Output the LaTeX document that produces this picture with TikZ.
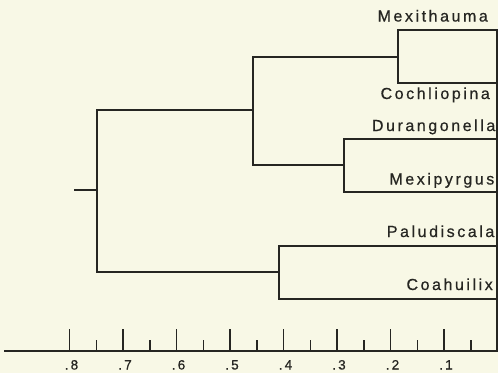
\documentclass[tikz,border=0pt]{standalone}
\usepackage{fontspec}
\setmainfont{Liberation Sans}
\newfontfamily\lab[LetterSpace=16,FakeBold=0.6]{Liberation Sans}
\definecolor{bg}{RGB}{248,248,230}
\definecolor{ink}{RGB}{38,38,34}
\tikzset{
  taxon/.style={anchor=base east, inner sep=0pt, text=ink, font=\lab\fontsize{16}{16}\selectfont},
  ticklab/.style={anchor=base, inner sep=0pt, text=ink, font=\lab\fontsize{13.5}{13.5}\selectfont},
  branch/.style={draw=ink, line width=1.5pt, line cap=rect, line join=miter},
}
\begin{document}
\begin{tikzpicture}[x=1pt,y=-1pt]
\fill[bg] (0,0) rectangle (498,373);
% leaves (tip ends on the right edge)
\coordinate (mex) at (497,30);
\coordinate (coc) at (497,83);
\coordinate (dur) at (497,139);
\coordinate (mxp) at (497,192);
\coordinate (pal) at (497,246);
\coordinate (coa) at (497,299);
% internal nodes
\coordinate (n1) at (398,57);
\coordinate (n2) at (344,165);
\coordinate (n3) at (253,110);
\coordinate (n4) at (279,272);
\coordinate (root) at (97,190);
\coordinate (stub) at (75,190);
% axis
\coordinate (ax0) at (5,351);
\coordinate (ax1) at (497,351);
% labels
\node[taxon] (lmex) at (488,21.5) {Mexithauma};
\node[taxon] (lcoc) at (490,99) {Cochliopina};
\node[taxon] (ldur) at (495.5,131) {Durangonella};
\node[taxon] (lmxp) at (494.5,184.5) {Mexipyrgus};
\node[taxon] (lpal) at (494.5,237) {Paludiscala};
\node[taxon] (lcoa) at (493,290) {Coahuilix};
% tree
\draw[branch] (mex) -| (n1) |- (coc);
\draw[branch] (dur) -| (n2) |- (mxp);
\draw[branch] (pal) -| (n4) |- (coa);
\draw[branch] (n1) -| (n3) |- (n2);
\draw[branch] (n3) -| (root) |- (n4);
\draw[branch] (stub) -- (root);
% right frame line and axis
\draw[branch] (mex) -- (ax1);
\draw[branch] (ax0) -- (ax1);
\foreach \i in {1,...,8}{
  \pgfmathsetmacro{\xx}{497.5-\i*53.5}
  \draw[branch, line cap=butt] (\xx,351) -- (\xx,329);
  \draw[branch, line cap=butt] (\xx+26.75,351) -- (\xx+26.75,340);
  \node[ticklab] (t\i) at (\xx+2,369.5) {.\i};
}
\end{tikzpicture}
\end{document}
